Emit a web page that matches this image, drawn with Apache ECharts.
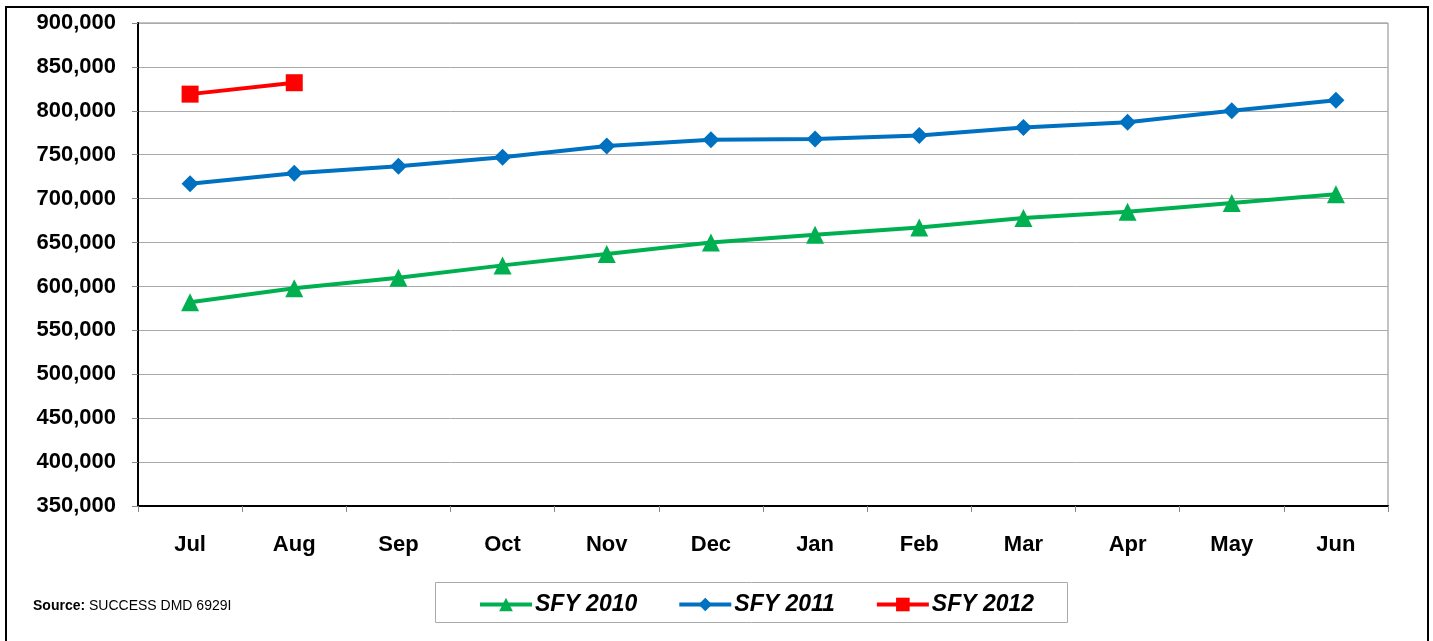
<!DOCTYPE html>
<html>
<head>
<meta charset="utf-8">
<script src="https://cdn.jsdelivr.net/npm/echarts@6/dist/echarts.min.js"></script>
<style>
  html, body { margin: 0; padding: 0; background: #fff; }
  #chart { width: 1433px; height: 641px; }
</style>
</head>
<body>
<div id="chart"></div>
<script>
const months = ["Jul", "Aug", "Sep", "Oct", "Nov", "Dec", "Jan", "Feb", "Mar", "Apr", "May", "Jun"];
const sfy2010 = [582000, 598000, 610000, 624000, 637000, 650000, 659000, 667000, 678000, 685000, 695000, 705000];
const sfy2011 = [717000, 729000, 737000, 747000, 760000, 767000, 768000, 772000, 781000, 787000, 800000, 812000];
const sfy2012 = [819000, 832000];

const font = "'Liberation Sans', Arial, sans-serif";

let chart = echarts.init(document.getElementById("chart"));

const mkSeries = (name, data, color, symbol, size) => ({
    name: name,
    type: "line",
    data: data,
    symbol: symbol,
    symbolSize: size,
    lineStyle: { color: color, width: 4 },
    itemStyle: { color: color },
    animation: false
});

chart.setOption({
    backgroundColor: "#fff",
    textStyle: { fontFamily: font },
    grid: {
        left: 138, top: 23, right: 45, bottom: 135,
        show: true,
        borderColor: "#888",
        borderWidth: 1
    },
    legend: {
        left: 473,
        top: 588,
        data: ["SFY 2010", "SFY 2011", "SFY 2012"],
        itemWidth: 52,
        itemHeight: 17,
        itemGap: 40,
        lineStyle: { width: 4 },
        textStyle: { fontSize: 23, fontWeight: "bold", fontStyle: "italic", color: "#000", fontFamily: font, padding: [0, 0, 0, -2] }
    },
    xAxis: {
        type: "category",
        data: months,
        boundaryGap: true,
        axisLine: { lineStyle: { color: "#000", width: 2 } },
        axisTick: { show: true, length: 6, lineStyle: { color: "#888" } },
        axisLabel: { margin: 28, fontSize: 22, fontWeight: "bold", color: "#000", fontFamily: font }
    },
    yAxis: {
        type: "value",
        min: 350000,
        max: 900000,
        interval: 50000,
        axisLine: { show: true, lineStyle: { color: "#000", width: 2 } },
        axisTick: { show: true, length: 6, lineStyle: { color: "#888" } },
        splitLine: { lineStyle: { color: "#aaa", width: 1 } },
        axisLabel: {
            margin: 22, fontSize: 22, fontWeight: "bold", color: "#000", fontFamily: font,
            formatter: v => v.toLocaleString("en-US")
        }
    },
    graphic: [
        {
            type: "polyline",
            shape: { points: [[6, 641], [6, 7], [1428, 7], [1428, 641]] },
            style: { stroke: "#000", lineWidth: 2, fill: null },
            silent: true
        },
        {
            type: "rect",
            shape: { x: 435.5, y: 582.5, width: 632, height: 40 },
            style: { stroke: "#aaa", lineWidth: 1, fill: null },
            silent: true
        },
        {
            type: "text",
            left: 33,
            top: 599,
            style: {
                text: "{b|Source:} SUCCESS DMD 6929I",
                font: "14px " + font,
                fill: "#000",
                rich: { b: { fontWeight: "bold", fontSize: 14, fontFamily: font } }
            }
        }
    ],
    series: [
        mkSeries("SFY 2010", sfy2010, "#00B050", "triangle", 18),
        mkSeries("SFY 2011", sfy2011, "#0070C0", "diamond", 17),
        mkSeries("SFY 2012", sfy2012, "#FF0000", "rect", 17)
    ]
});
</script>
</body>
</html>
